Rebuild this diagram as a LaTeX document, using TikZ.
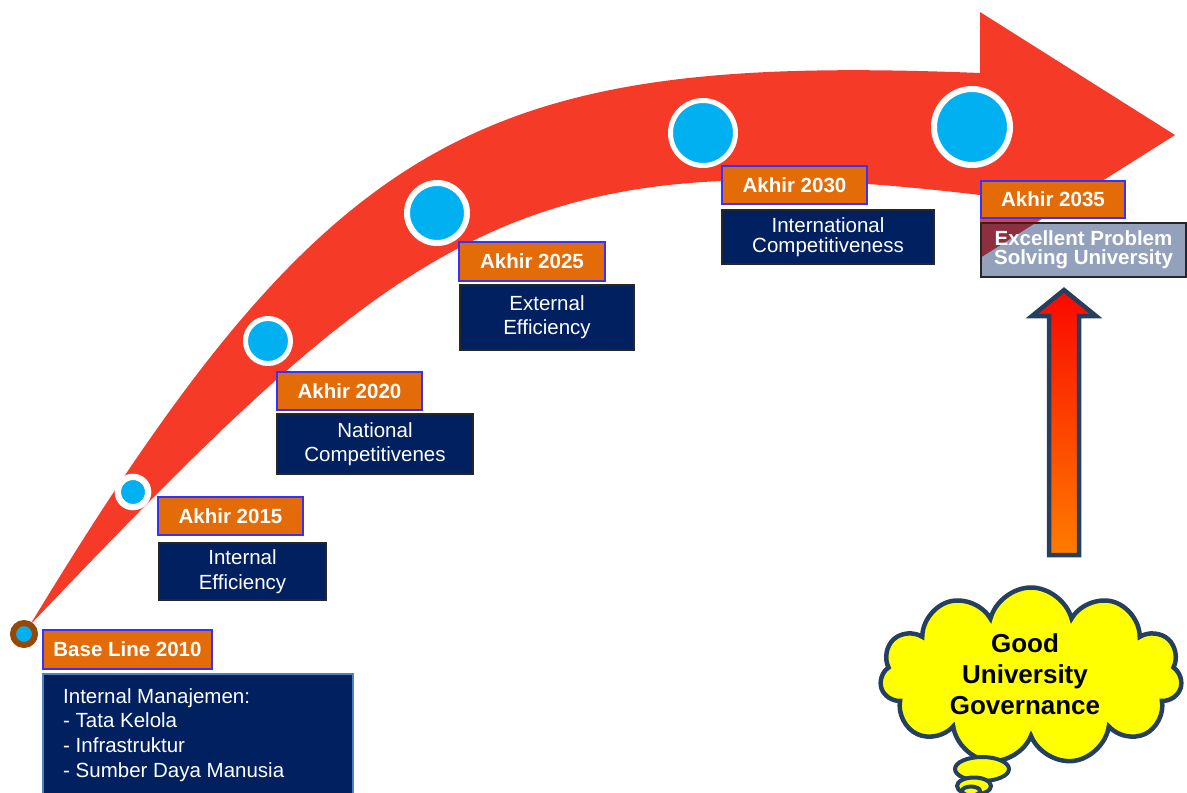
\documentclass[tikz,border=0pt]{standalone}
\usepackage{fontspec}
\setmainfont{Liberation Sans}
\usetikzlibrary{shapes.symbols,shapes.geometric}
\definecolor{arrowred}{RGB}{246,58,40}
\definecolor{dotblue}{RGB}{0,176,240}
\definecolor{labelorange}{RGB}{227,108,9}
\definecolor{labelblue}{RGB}{51,51,255}
\definecolor{navyfill}{RGB}{0,32,96}
\definecolor{slate}{RGB}{36,63,96}
\definecolor{ringbrown}{RGB}{151,72,6}
\definecolor{uptop}{RGB}{250,8,0}
\definecolor{upbottom}{RGB}{255,124,0}
\definecolor{cloudyellow}{RGB}{255,255,0}
\definecolor{baseedge}{RGB}{79,129,189}
\begin{document}
\begin{tikzpicture}[x=1pt,y=-1pt,
  yearbox/.style={draw=labelblue, line width=2pt, fill=labelorange, text=white,
    font=\fontsize{20.5}{24}\selectfont\bfseries, inner sep=0pt},
  goalbox/.style={draw=black!85, line width=1.3pt, fill=navyfill, text=white,
    align=center, inner sep=0pt},
  milestone/.style={circle, fill=dotblue, draw=white, inner sep=0pt},
  bubble/.style={ellipse, draw=slate, line width=4pt, fill=cloudyellow, inner sep=0pt},
]
\useasboundingbox (0,0) rectangle (1187,793);

% curved arrow
\fill[arrowred] (30,625) .. controls (330,130) and (480,53) .. (980,73)
  -- (980,12) -- (1175,135) -- (980,258) -- (980,195)
  .. controls (520,140) and (410,226) .. (30,625) -- cycle;

% milestones
\node[circle, fill=dotblue, draw=ringbrown, line width=6pt, minimum size=22pt, inner sep=0pt] (m2010) at (24,634) {};
\node[milestone, line width=6.3pt, minimum size=30.3pt] (m2015) at (133,492) {};
\node[milestone, line width=5pt, minimum size=45pt] (m2020) at (268,341) {};
\node[milestone, line width=6pt, minimum size=60pt] (m2025) at (437,213) {};
\node[milestone, line width=5pt, minimum size=65pt] (m2030) at (703,133) {};
\node[milestone, line width=6pt, minimum size=76pt] (m2035) at (972,127) {};

% year labels
\node[yearbox, minimum width=169pt, minimum height=39pt] (y2010) at (127.5,649.5) {Base Line 2010};
\node[yearbox, minimum width=145pt, minimum height=38pt] (y2015) at (230.5,516) {Akhir 2015};
\node[yearbox, minimum width=145pt, minimum height=38pt] (y2020) at (349.5,391) {Akhir 2020};
\node[yearbox, minimum width=146pt, minimum height=39pt] (y2025) at (532,261.5) {Akhir 2025};
\node[yearbox, minimum width=145pt, minimum height=38pt] (y2030) at (794.5,185) {Akhir 2030};
\node[yearbox, minimum width=144pt, minimum height=37pt] (y2035) at (1053,199.5) {Akhir 2035};

% goal boxes
\node[goalbox, draw=baseedge, line width=1.5pt, minimum width=310pt, minimum height=130pt] (g2010) at (198,739) {};
\node[anchor=north west, align=left, text=white, inner sep=0pt,
  font=\fontsize{20.5}{24.7}\selectfont] (g2010text) at (63,688) {Internal Manajemen:\\- Tata Kelola\\- Infrastruktur\\- Sumber Daya Manusia};
\node[goalbox, minimum width=167pt, minimum height=57pt, font=\fontsize{20.5}{25}\selectfont] (g2015) at (242.5,571.5) {Internal\\Efficiency};
\node[goalbox, minimum width=196pt, minimum height=60pt, font=\fontsize{20.5}{24}\selectfont] (g2020) at (375,444) {National\\Competitivenes};
\node[goalbox, minimum width=174pt, minimum height=65pt, font=\fontsize{20.5}{24}\selectfont] (g2025) at (547,317.5) {External\\Efficiency};
\node[goalbox, minimum width=212pt, minimum height=54pt, font=\fontsize{20.5}{20}\selectfont] (g2030) at (828,237) {International\\Competitiveness};
\node[goalbox, fill opacity=0.42, text opacity=1, minimum width=205pt, minimum height=54pt,
  font=\fontsize{20.5}{19}\selectfont\bfseries] (g2035) at (1083.5,250) {Excellent Problem\\Solving University};

% up arrow
\shade[top color=uptop, bottom color=upbottom] (1064,290) -- (1096,316) -- (1079,316) -- (1079,555) -- (1049,555) -- (1049,316) -- (1032,316) -- cycle;
\draw[slate, line width=4.5pt, line join=miter] (1064,290) -- (1096,316) -- (1079,316) -- (1079,555) -- (1049,555) -- (1049,316) -- (1032,316) -- cycle;

% cloud
\node[cloud, cloud puffs=11, aspect=1.7, draw=slate, line width=4.5pt, fill=cloudyellow,
  minimum width=302pt, minimum height=177pt, inner sep=0pt] (cloud) at (1031,676) {};
\node[bubble, minimum width=54pt, minimum height=24pt] (b1) at (982,769) {};
\node[bubble, minimum width=34pt, minimum height=17pt] (b2) at (974,786) {};
\node[bubble, minimum width=18pt, minimum height=9pt] (b3) at (971,791) {};
\node[font=\fontsize{26}{31}\selectfont\bfseries, align=center, inner sep=0pt] (cloudtext) at (1025,674) {Good\\University\\Governance};
\end{tikzpicture}
\end{document}
